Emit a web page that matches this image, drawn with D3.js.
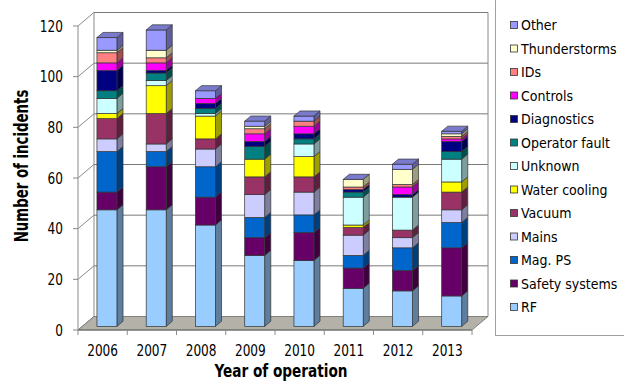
<!DOCTYPE html>
<html>
<head>
<meta charset="utf-8">
<script src="https://cdn.jsdelivr.net/npm/d3@7"></script>
<style>
  html, body { margin: 0; padding: 0; background: #fff; }
  svg { display: block; }
</style>
</head>
<body>
<div id="chart"></div>
<script>
const years = ['2006', '2007', '2008', '2009', '2010', '2011', '2012', '2013'];

// stacked bottom -> top
const rf = [46, 46, 40, 28, 26, 15, 14, 12];
const safety = [7, 17, 11, 7, 11, 8, 8, 19];
const magPS = [16, 6, 12, 8, 7, 5, 9, 10];
const mains = [5, 3, 7, 9, 9, 8, 4, 5];
const vacuum = [8, 12, 4, 7, 6, 3, 3, 7];
const water = [2, 11, 9, 7, 8, 1, 0, 4];
const unknown = [6, 2, 1, 0, 5, 11, 13, 9];
const operator = [3, 3, 2, 5, 2, 2, 0, 3];
const diagnostics = [8, 1, 2, 2, 2, 1, 1, 4];
const controls = [3, 3, 2, 3, 3, 0, 3, 1];
const ids = [4, 2, 0, 2, 2, 1, 1, 1];
const thunder = [1, 3, 0, 1, 0, 3, 6, 1];
const other = [5, 8, 3, 2, 2, 0, 2, 1];

const seriesNames = ['RF', 'Safety systems', 'Mag. PS', 'Mains', 'Vacuum', 'Water cooling', 'Unknown',
  'Operator fault', 'Diagnostics', 'Controls', 'IDs', 'Thunderstorms', 'Other'];
const seriesValues = [rf, safety, magPS, mains, vacuum, water, unknown, operator, diagnostics, controls, ids, thunder, other];
const seriesColors = ['#99CCFF', '#660066', '#0066CC', '#CCCCFF', '#993366', '#FFFF00', '#CCFFFF',
  '#008080', '#000080', '#FF00FF', '#FF8080', '#FFFFCC', '#9999FF'];
const yTicks = [0, 20, 40, 60, 80, 100, 120];

const W = 624, H = 382;
const DX = 16, DY = 13.5;      // depth of the 3D box
const F0 = 0.27, F1 = 0.65;    // bar depth placement
const barFrac = 0.406;

const table = years.map((yr, i) => {
  const row = { year: yr };
  seriesNames.forEach((s, k) => { row[s] = seriesValues[k][i]; });
  return row;
});
const stacked = d3.stack().keys(seriesNames)(table);

const x = d3.scaleBand().domain(years).range([78, 472]).padding(0);
const y = d3.scaleLinear().domain([0, 120]).range([330, 26]);

const svg = d3.select('#chart').append('svg').attr('width', W).attr('height', H);
const font = "'DejaVu Sans Condensed', 'DejaVu Sans', sans-serif";

function scaled(c, k) {
  const r = d3.rgb(c);
  return d3.rgb(r.r * k, r.g * k, r.b * k).formatHex();
}

function label(g, tx, ty, str, size, sx, anchor, weight, rot) {
  return g.append('text')
    .attr('transform', `translate(${tx},${ty})${rot ? ` rotate(${rot})` : ''} scale(${sx},1)`)
    .attr('text-anchor', anchor)
    .attr('font-family', font)
    .attr('font-size', size)
    .attr('font-weight', weight || 'normal')
    .attr('fill', '#000')
    .text(str);
}

// walls and gridlines
const grid = svg.append('g');
yTicks.forEach((t) => {
  grid.append('line')
    .attr('x1', 78 + DX).attr('x2', 472 + DX)
    .attr('y1', y(t) - DY).attr('y2', y(t) - DY)
    .attr('stroke', t === 0 ? 'none' : '#7a7a7a').attr('stroke-width', 1);
  grid.append('line')
    .attr('x1', 78).attr('x2', 78 + DX)
    .attr('y1', y(t)).attr('y2', y(t) - DY)
    .attr('stroke', '#8a8a8a');
});
grid.append('line').attr('x1', 78 + DX).attr('x2', 78 + DX)
  .attr('y1', y(120) - DY).attr('y2', y(0) - DY).attr('stroke', '#8a8a8a');
grid.append('line').attr('x1', 472 + DX).attr('x2', 472 + DX)
  .attr('y1', y(120) - DY).attr('y2', y(0) - DY).attr('stroke', '#8a8a8a');

// floor
grid.append('path')
  .attr('d', `M78,${y(0)} L472,${y(0)} L${472 + DX},${y(0) - DY} L${78 + DX},${y(0) - DY} Z`)
  .attr('fill', '#b4b1a9').attr('stroke', '#6b6b6b').attr('stroke-width', 0.8);

// y axis
const yAxis = svg.append('g');
yAxis.append('line').attr('x1', 78).attr('x2', 78).attr('y1', y(120)).attr('y2', y(0)).attr('stroke', '#8a8a8a');
yTicks.forEach((t) => {
  yAxis.append('line').attr('x1', 73).attr('x2', 78).attr('y1', y(t)).attr('y2', y(t)).attr('stroke', '#8a8a8a');
  label(yAxis, 63, y(t) + 5.5, String(t), 15, 0.9, 'end');
});

// x axis
const xAxis = svg.append('g');
xAxis.append('line').attr('x1', 78).attr('x2', 472).attr('y1', y(0)).attr('y2', y(0)).attr('stroke', '#6b6b6b');
years.concat(['end']).forEach((yr, i) => {
  const xx = 78 + i * x.step();
  xAxis.append('line').attr('x1', xx).attr('x2', xx).attr('y1', y(0)).attr('y2', y(0) + 5).attr('stroke', '#8a8a8a');
});
years.forEach((yr) => {
  label(xAxis, x(yr) + x.bandwidth() / 2, 356, yr, 15, 0.9, 'middle');
});

// bars
const bars = svg.append('g');
const bw = x.bandwidth() * barFrac;
years.forEach((yr, i) => {
  const bx0 = x(yr) + (x.bandwidth() - bw) / 2;
  const bx1 = bx0 + bw;
  const g = bars.append('g');
  stacked.forEach((layer, k) => {
    const [v0, v1] = layer[i];
    if (v1 - v0 <= 0) return;
    const c = seriesColors[k];
    const yTop = y(v1), yBot = y(v0);
    g.append('path')
      .attr('d', `M${bx1 + F0 * DX},${yTop - F0 * DY} L${bx1 + F1 * DX},${yTop - F1 * DY} L${bx1 + F1 * DX},${yBot - F1 * DY} L${bx1 + F0 * DX},${yBot - F0 * DY} Z`)
      .attr('fill', scaled(c, 0.62)).attr('stroke', '#333').attr('stroke-width', 0.7);
    g.append('rect')
      .attr('x', bx0 + F0 * DX).attr('y', yTop - F0 * DY)
      .attr('width', bw).attr('height', yBot - yTop)
      .attr('fill', c).attr('stroke', '#333').attr('stroke-width', 0.7);
  });
  const top = stacked[stacked.length - 1][i][1];
  const yt = y(top);
  g.append('path')
    .attr('d', `M${bx0 + F0 * DX},${yt - F0 * DY} L${bx1 + F0 * DX},${yt - F0 * DY} L${bx1 + F1 * DX},${yt - F1 * DY} L${bx0 + F1 * DX},${yt - F1 * DY} Z`)
    .attr('fill', scaled(seriesColors[seriesColors.length - 1], 0.8)).attr('stroke', '#333').attr('stroke-width', 0.7);
});

// axis titles
label(svg, 281, 376.5, 'Year of operation', 18.5, 0.82, 'middle', 'bold');
label(svg, 28, 166, 'Number of incidents', 19, 0.78, 'middle', 'bold', -90);

// legend
const legend = svg.append('g');
legend.append('rect').attr('x', 495.5).attr('y', -2).attr('width', 140).attr('height', 337.5)
  .attr('fill', '#fff').attr('stroke', '#a0a0a0');
seriesNames.slice().reverse().forEach((s, j) => {
  const k = seriesNames.length - 1 - j;
  const cy = 25 + j * 23.5;
  legend.append('rect').attr('x', 510.5).attr('y', cy - 3.5).attr('width', 7).attr('height', 7)
    .attr('fill', seriesColors[k]).attr('stroke', '#333').attr('stroke-width', 0.8);
  label(legend, 521, cy + 5, s, 14, 1, 'start');
});
</script>
</body>
</html>
